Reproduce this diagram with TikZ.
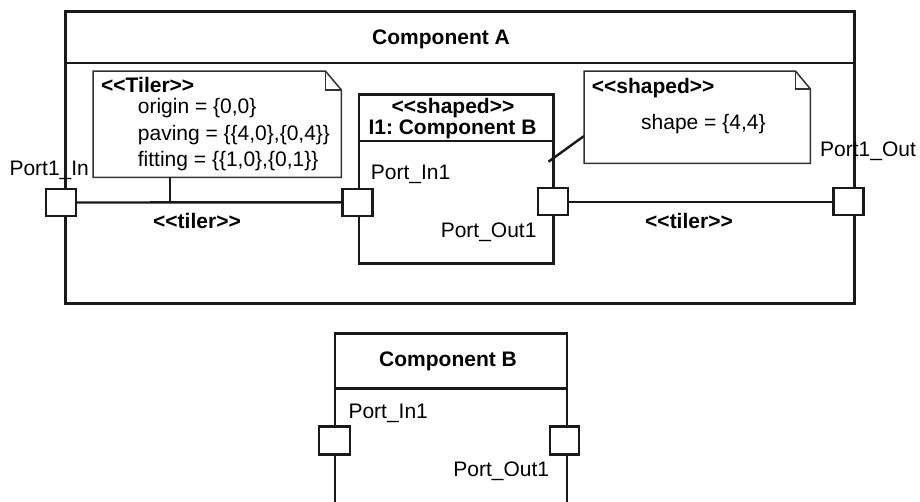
\documentclass[tikz,border=0pt]{standalone}
\usepackage{fontspec}
\setmainfont{Liberation Sans}
\newcommand\stereo[1]{<\kern0pt<#1>\kern0pt>}
\frenchspacing
\begin{document}
\begin{tikzpicture}[x=1pt,y=-1pt,
  box/.style={draw=black!90, line width=2.5pt, inner sep=0pt, anchor=north west},
  hidden/.style={inner sep=0pt, anchor=north west},
  sep/.style={draw=black!90, line width=2.5pt},
  notestyle/.style={draw=black!80, line width=1.5pt, fill=white},
  port/.style={draw=black!90, fill=white, line width=2.2pt, minimum width=30pt, minimum height=27pt, inner sep=0pt},
  conn/.style={draw=black!90, line width=2.4pt},
  txt/.style={inner sep=0pt, anchor=base west, font=\fontsize{21}{25}\selectfont},
  btxt/.style={txt, font=\fontsize{21}{25}\selectfont\bfseries}
]
\useasboundingbox (0,0) rectangle (920,501);
\fill[white] (0,0) rectangle (920,501);

% Component A
\node[box, minimum width=789pt, minimum height=292pt] (A) at (64,10) {};
\draw[sep] (A.west |- 0,63) -- (A.east |- 0,63);
\node[btxt] (Atitle) at (372,44.3) {Component A};

% inner part I1
\node[box, minimum width=194.5pt, minimum height=169pt] (I1) at (357.5,93) {};
\draw[sep] (I1.west |- 0,141) -- (I1.east |- 0,141);
\node[btxt, anchor=base] (I1st) at (453,113.3) {\stereo{shaped}};
\node[btxt, anchor=base] (I1name) at (452.5,134) {I1: Component B};
\node[txt] (I1in) at (370.7,179.3) {Port\_In1};
\node[txt, anchor=base east] (I1out) at (536.7,237.7) {Port\_Out1};

% Tiler note
\node[hidden, minimum width=248pt, minimum height=106pt] (tn) at (93,71) {};
\draw[notestyle] (tn.north west) -- ([xshift=-16pt]tn.north east) -- ([yshift=-19pt]tn.north east)
  -- (tn.south east) -- (tn.south west) -- cycle;
\draw[notestyle, fill=none] ([xshift=-16pt]tn.north east) -- ([xshift=-16pt,yshift=-19pt]tn.north east)
  -- ([yshift=-19pt]tn.north east);
\node[btxt] (tnh) at (101,92.3) {\stereo{Tiler}};
\node[txt] (tn1) at (137.7,113.3) {origin = \{0,0\}};
\node[txt] (tn2) at (137.7,140) {paving = \{\{4,0\},\{0,4\}\}};
\node[txt] (tn3) at (137.7,166.7) {fitting = \{\{1,0\},\{0,1\}\}};

% Shaped note
\node[hidden, minimum width=226pt, minimum height=92pt] (sn) at (584,71) {};
\draw[notestyle] (sn.north west) -- ([xshift=-15pt]sn.north east) -- ([yshift=-18pt]sn.north east)
  -- (sn.south east) -- (sn.south west) -- cycle;
\draw[notestyle, fill=none] ([xshift=-15pt]sn.north east) -- ([xshift=-15pt,yshift=-18pt]sn.north east)
  -- ([yshift=-18pt]sn.north east);
\node[btxt] (snh) at (591.7,93.3) {\stereo{shaped}};
\node[txt] (sn1) at (641,129.3) {shape = \{4,4\}};

% ports of A and I1
\node[port] (p1in) at (61,202.5) {};
\node[port] (bin) at (357.5,202.3) {};
\node[port] (bout) at (553,201.8) {};
\node[port] (p1out) at (848.5,201.8) {};

% connectors
\draw[conn] (p1in.east) -- (bin.west);
\draw[conn] (bout.east) -- (p1out.west);
\coordinate (tj) at (170,0);
\draw[conn] (tn.south -| tj) -- (p1in.east -| tj);
\coordinate (sa) at (548.5,161.7);
\draw[conn] ([yshift=-65pt]sn.north west) -- (sa);

\node[btxt, anchor=base] (tl1) at (197,228.3) {\stereo{tiler}};
\node[btxt, anchor=base] (tl2) at (689,228.3) {\stereo{tiler}};
\node[txt] (p1inl) at (9.3,175) {Port1\_In};
\node[txt] (p1outl) at (820,156) {Port1\_Out};

% Component B
\node[hidden, minimum width=231.7pt, minimum height=170pt] (B) at (335,333.3) {};
\draw[sep] ([yshift=-10pt]B.south west) -- (B.north west) -- (B.north east) -- ([yshift=-10pt]B.south east);
\draw[sep] (B.west |- 0,388.3) -- (B.east |- 0,388.3);
\node[btxt, anchor=base] (Btitle) at (448,366) {Component B};
\node[txt] (Bin) at (348.3,418.3) {Port\_In1};
\node[txt, anchor=base east] (Bout) at (549.3,476) {Port\_Out1};
\node[port, minimum width=31pt, minimum height=28pt] (bbin) at (334.7,440.5) {};
\node[port, minimum width=29pt, minimum height=28pt] (bbout) at (564.7,440.5) {};
\end{tikzpicture}
\end{document}
